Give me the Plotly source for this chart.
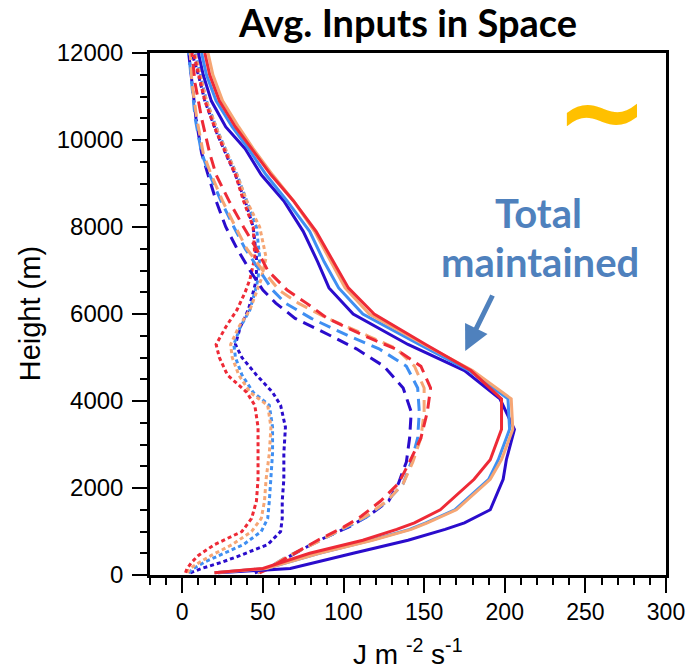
import plotly.graph_objects as go

# ---- vertical levels (m) for each line family ----
h_solid = [50, 150, 500, 800, 1050, 1200, 1500, 2200, 2650, 3350, 4050, 4700,
           5300, 6000, 6600, 7200, 7900, 8600, 9200, 9800, 10300, 10900, 11500, 12000]
h_dash = [50, 150, 400, 800, 1100, 1350, 1700, 2100, 2600, 3150, 3750, 4300, 4800,
          5200, 5500, 5900, 6250, 6550, 7000, 7500, 8000, 8600, 9200, 9700, 10500,
          11300, 12000]
h_dot = [50, 150, 300, 450, 700, 1000, 1300, 1700, 2200, 2800, 3400, 3900, 4200,
         4600, 5000, 5300, 5700, 6100, 6500, 6800, 7300, 8000, 8600, 9200, 9600,
         10200, 10900, 11500, 12000]

# ---- solid profiles (J m-2 s-1) ----
solid_red = [20, 50, 79, 112, 133, 144, 160, 181, 191, 198, 198, 179,
             151, 119, 103, 94, 83, 69, 55, 43, 33, 23, 17, 14]
solid_orange = [20, 52, 85, 118, 142, 152, 170, 191, 198, 205, 204, 180,
                150, 116, 101, 92, 82, 69, 56, 44, 35, 25, 19, 16]
solid_ltblue = [20, 52, 85, 117, 141, 151, 169, 190, 196, 203, 202, 178,
                147, 112, 97, 88, 79, 65, 52, 41, 31, 21, 15, 12]
solid_dkblue = [22, 67, 106, 140, 163, 175, 191, 199, 201, 206, 197, 175,
                140, 106, 91, 84, 75, 63, 49, 39, 27, 18, 13, 10]

# ---- dashed profiles ----
dash_red = [48, 54, 65, 84, 100, 111, 123, 134, 141, 148, 152, 154, 148,
            132, 113, 90, 77, 65, 53, 46, 38, 29, 21, 17, 12, 8, 6]
dash_orange = [47, 53, 64, 86, 101, 114, 127, 137, 143, 148, 150, 150, 144,
               133, 115, 90, 72, 60, 50, 40, 33, 25, 18, 13, 9, 6, 5]
dash_ltblue = [47, 53, 64, 86, 102, 115, 127, 137, 142, 146, 147, 146, 139,
               122, 103, 80, 64, 56, 48, 39, 32, 24, 17, 12, 8, 6, 4]
dash_dkblue = [45, 53, 65, 85, 103, 115, 128, 134, 139, 141, 142, 137, 125,
               108, 92, 70, 58, 50, 42, 34, 27, 21, 16, 12, 8.5, 6, 4]

# ---- dotted profiles ----
dot_red = [2, 3, 6, 10, 20, 37, 43, 46, 47, 47, 47, 45, 40, 28, 23, 21, 27, 34,
           39, 42, 45, 44, 38, 33, 28, 21, 14, 10, 7]
dot_orange = [3, 5, 11, 18, 31, 43, 49, 51, 52, 54, 55, 53, 42, 35, 31, 30, 35,
              42, 46, 49, 52, 48, 40, 34, 29, 22, 15, 11, 8]
dot_ltblue = [4, 7, 14, 23, 38, 49, 53, 54, 55, 56, 56, 54, 44, 37, 33, 32, 36,
              42, 45, 47, 48, 46, 40, 34, 29, 22, 15, 11, 8]
dot_dkblue = [5, 12, 25, 36, 53, 61, 62, 62, 63, 63, 64, 61, 56, 46, 37, 33, 36,
              41, 44, 46, 46, 44, 39, 33, 28, 21, 14, 10, 6]

x_ticks = [0, 50, 100, 150, 200, 250, 300]
x_labels = ["0", "50", "100", "150", "200", "250", "300"]
y_ticks = [0, 2000, 4000, 6000, 8000, 10000, 12000]
y_labels = ["0", "2000", "4000", "6000", "8000", "10000", "12000"]

RED = "#ee2a36"
ORANGE = "#f6a674"
LTBLUE = "#3f8ff2"
DKBLUE = "#2a0ccc"
DASH = "12px,7px"
DOT = "4px,3px"

fig = go.Figure()

families = [
    (h_dot, [(dot_dkblue, DKBLUE), (dot_ltblue, LTBLUE), (dot_orange, ORANGE), (dot_red, RED)], DOT),
    (h_dash, [(dash_dkblue, DKBLUE), (dash_ltblue, LTBLUE), (dash_orange, ORANGE), (dash_red, RED)], DASH),
    (h_solid, [(solid_dkblue, DKBLUE), (solid_ltblue, LTBLUE), (solid_orange, ORANGE), (solid_red, RED)], "solid"),
]
for heights, series, dash in families:
    for values, color in series:
        fig.add_trace(go.Scatter(
            x=values, y=heights, mode="lines",
            line=dict(color=color, width=3, dash=dash),
            showlegend=False, hoverinfo="skip",
        ))

SANS = "Liberation Sans, Arial, sans-serif"

fig.update_xaxes(
    range=[-20, 300], tickvals=x_ticks, ticktext=x_labels, ticks="outside",
    ticklen=15, tickwidth=2, tickcolor="black", showline=True, linecolor="black",
    linewidth=2.5, mirror=True, showgrid=False, zeroline=False,
    tickfont=dict(family=SANS, size=23, color="black"),
    minor=dict(dtick=10, tick0=0, ticks="outside", ticklen=7, tickwidth=1.5, tickcolor="black"),
)
fig.update_yaxes(
    range=[0, 12000], tickvals=y_ticks, ticktext=y_labels, ticks="outside",
    ticklen=15, tickwidth=2, tickcolor="black", showline=True, linecolor="black",
    linewidth=2.5, mirror=True, showgrid=False, zeroline=False,
    tickfont=dict(family=SANS, size=24, color="black"),
    ticklabelstandoff=4,
    minor=dict(dtick=500, tick0=0, ticks="outside", ticklen=7, tickwidth=1.5, tickcolor="black"),
)

annotations = [
    # axis titles
    dict(text="Height (m)", xref="paper", yref="paper", x=-0.232, y=0.5,
         xanchor="center", yanchor="middle", textangle=-90, showarrow=False,
         font=dict(family=SANS, size=29, color="black")),
    dict(text="J m <sup>-2</sup> s<sup>-1</sup>", xref="paper", yref="paper",
         x=0.5, y=-0.147, xanchor="center", yanchor="middle", showarrow=False,
         font=dict(family=SANS, size=28, color="black")),
    # callout text
    dict(text="<b>Total</b>", x=221, y=8322, xref="x", yref="y", showarrow=False,
         font=dict(family="Lato, sans-serif", size=40, color="#4f81bd")),
    dict(text="<b>maintained</b>", x=222, y=7196, xref="x", yref="y", showarrow=False,
         font=dict(family="Lato, sans-serif", size=40, color="#4f81bd")),
    # arrow pointing at the solid profiles
    dict(text="", x=175.5, y=5150, xref="x", yref="y", ax=28, ay=-57,
         showarrow=True, arrowhead=2, arrowsize=1, arrowwidth=5, arrowcolor="#4f81bd"),
    # tilde marker
    dict(text="<b>~</b>", x=260.5, y=10660, xref="x", yref="y", showarrow=False,
         font=dict(family="DejaVu Sans, sans-serif", size=112, color="#ffc000")),
]

fig.update_layout(
    width=697, height=672,
    margin=dict(l=150, r=21, t=53, b=97),
    paper_bgcolor="white", plot_bgcolor="white",
    title=dict(text="<b>Avg. Inputs in Space</b>", x=408 / 697, xanchor="center",
               y=1 - 24 / 672, yanchor="middle",
               font=dict(family="Lato, sans-serif", size=38, color="black")),
    annotations=annotations,
)

fig.write_html("out.html")
